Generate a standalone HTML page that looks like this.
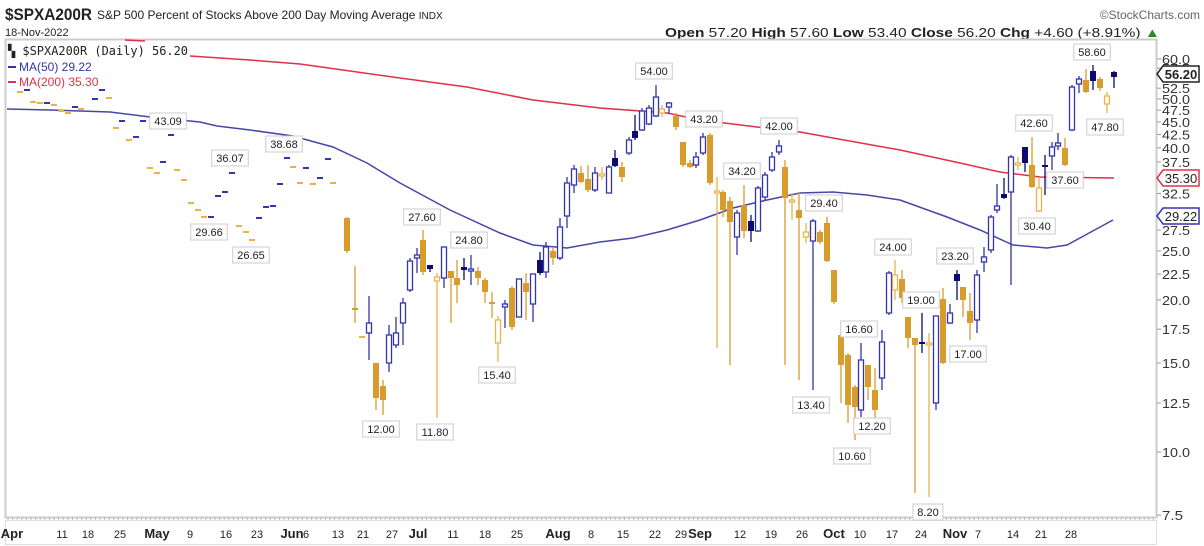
<!DOCTYPE html>
<html><head><meta charset="utf-8"><style>
body{margin:0;background:#fff;width:1204px;height:546px;overflow:hidden;font-family:"Liberation Sans",sans-serif}
svg{position:absolute;left:0;top:0}
</style></head><body>
<svg id="s" width="1204" height="546" xmlns="http://www.w3.org/2000/svg" font-family="Liberation Sans, sans-serif">
<text x="5" y="20" font-size="17" font-weight="bold" fill="#222" textLength="87" lengthAdjust="spacingAndGlyphs">$SPXA200R</text>
<text x="97" y="19" font-size="12" fill="#222">S&amp;P 500 Percent of Stocks Above 200 Day Moving Average <tspan font-size="10">INDX</tspan></text>
<text x="5" y="36" font-size="11" fill="#222">18-Nov-2022</text>
<text x="1200" y="19" font-size="12" fill="#666" text-anchor="end">©StockCharts.com</text>
<text x="665" y="37" font-size="13" fill="#222" textLength="495" lengthAdjust="spacingAndGlyphs"><tspan font-weight="bold">Open</tspan> 57.20 <tspan font-weight="bold">High</tspan> 57.60 <tspan font-weight="bold">Low</tspan> 53.40 <tspan font-weight="bold">Close</tspan> 56.20 <tspan font-weight="bold">Chg</tspan> +4.60 (+8.91%) <tspan fill="#2a8a2a">▲</tspan></text>
<rect x="5.5" y="39.5" width="1151" height="478" fill="none" stroke="#ccc" stroke-width="2"/>
<rect x="5.5" y="520.5" width="1151" height="24" fill="none" stroke="#ddd"/>
<g id="g"></g>
<text x="8" y="55" font-size="12" font-family="DejaVu Sans Mono, Liberation Mono, monospace" fill="#222" textLength="180" lengthAdjust="spacingAndGlyphs">▚ $SPXA200R (Daily) 56.20</text>
<rect x="8" y="66" width="8" height="2" fill="#3434a8"/><text x="19" y="71" font-size="12" fill="#3434a8">MA(50) 29.22</text>
<rect x="8" y="81" width="8" height="2" fill="#e0304a"/><text x="19" y="86" font-size="12" fill="#e0304a">MA(200) 35.30</text>
</svg>
<script>
const g=document.getElementById('g');let h='';
const Y=v=>452-219.4*Math.log(v/10);
[60,57.5,52.5,50,47.5,45,42.5,40,37.5,32.5,27.5,25,22.5,20,17.5,15,12.5,10,7.5].forEach(v=>{const y=Y(v);h+=`<line x1="1157" x2="1161" y1="${y}" y2="${y}" stroke="#999"/><text x="1162" y="${y+5}" font-size="13" fill="#333" textLength="${v>=10?28:21}" lengthAdjust="spacingAndGlyphs">${v.toFixed(1)}</text>`;});
const xl=[["Apr",12,1],["11",62],["18",88],["25",120],["May",157,1],["9",190],["16",226],["23",257],["Jun",292,1],["6",306],["13",338],["21",363],["27",392],["Jul",418,1],["11",453],["18",485],["25",517],["Aug",558,1],["8",591],["15",623],["22",655],["29",681],["Sep",700,1],["12",740],["19",771],["26",802],["Oct",834,1],["10",860],["17",892],["24",921],["Nov",955,1],["7",978],["14",1013],["21",1041],["28",1071]];
xl.forEach(a=>{h+=`<text x="${a[1]}" y="538" font-size="${a[2]?13:11}" ${a[2]?'font-weight="bold"':''} fill="#222" text-anchor="middle">${a[0]}</text>`;});
for(let x=8;x<1156;x+=4.6)h+=`<line x1="${x}" x2="${x}" y1="517" y2="520" stroke="#bbb"/>`;
const m200=[[125,40],[145,41]],r=[[190,56],[250,60],[300,64],[400,78],[467,87],[533,100],[600,108],[667,113],[700,120],[757,127],[800,132],[833,138],[900,150],[960,163],[1000,172],[1040,177],[1114,178]];
h+=`<polyline points="${m200.join(' ')}" fill="none" stroke="#e0304a" stroke-width="1.5"/>`;
h+=`<polyline points="${r.join(' ')}" fill="none" stroke="#e0304a" stroke-width="1.5"/>`;
const b=[[7,109],[50,110],[110,112],[150,117],[200,122],[217,126],[250,130],[293,136],[300,138],[333,147],[367,163],[400,183],[450,210],[500,233],[533,245],[567,248],[600,242],[633,238],[667,230],[700,220],[733,208],[767,200],[800,193],[833,192],[867,195],[900,200],[947,217],[980,230],[1013,245],[1047,248],[1067,245],[1113,220]];
h+=`<polyline points="${b.join(' ')}" fill="none" stroke="#4646a8" stroke-width="1.5"/>`;
const C={b:'#3434b0',n:'#0c0c70',o:'#d89c2c',h:'#e8b44a'};
const d=[[20,92,'o'],[27,90,'b'],[33,102,'o'],[40,103,'o'],[47,103,'b'],[54,105,'o'],[61,111,'o'],[68,113,'o'],[75,107,'b'],[81,109,'o'],[95,99,'b'],[102,90,'b'],[109,98,'o'],[116,128,'o'],[122,121,'b'],[129,140,'o'],[136,137,'b'],[143,121,'b'],[150,168,'o'],[157,173,'o'],[163,162,'b'],[171,135,'b'],[177,170,'o'],[184,180,'o'],[191,203,'o'],[198,210,'o'],[204,217,'o'],[211,217,'b'],[218,196,'b'],[225,192,'b'],[232,173,'b'],[239,226,'o'],[246,232,'o'],[252,240,'o'],[259,218,'b'],[266,207,'b'],[273,206,'b'],[280,184,'b'],[287,158,'b'],[293,167,'o'],[300,183,'o'],[306,168,'b'],[313,184,'o'],[320,178,'b'],[328,159,'b'],[333,183,'o'],[362,337,'o']];
d.forEach(a=>{h+=`<rect x="${a[0]-3}" y="${a[1]-1}" width="6" height="2" fill="${a[2]=='o'?C.h:C.b}"/>`;});
const c=[[347,218,251,217,253,'o'],[355,308,310,266,323,'o'],[369,323,333,296,360,'b'],[376,363,398,363,410,'o'],[383,386,400,380,415,'o'],[389,335,363,325,372,'b'],[396,333,345,317,348,'b'],[403,303,323,298,345,'b'],[410,261,290,258,292,'b'],[417,255,258,248,273,'b'],[423,240,272,230,275,'o'],[430,265,269,265,272,'n'],[437,277,281,273,418,'h'],[444,247,278,247,288,'b'],[451,271,278,271,323,'o'],[457,278,285,260,303,'o'],[464,267,270,258,280,'n'],[471,269,271,255,285,'b'],[478,271,278,267,285,'o'],[485,280,292,278,303,'o'],[492,302,304,292,318,'o'],[498,320,343,316,362,'h'],[505,304,307,300,328,'b'],[512,288,327,286,330,'o'],[519,279,317,279,317,'b'],[526,283,292,273,320,'o'],[533,274,304,274,322,'b'],[540,260,273,252,275,'n'],[546,247,272,242,278,'b'],[553,251,258,248,265,'o'],[560,227,258,218,260,'b'],[567,183,216,177,228,'b'],[574,169,185,165,193,'b'],[581,173,182,166,183,'o'],[588,179,190,165,192,'o'],[595,173,190,167,192,'b'],[602,174,176,167,180,'h'],[609,167,193,165,193,'b'],[615,158,166,150,167,'n'],[622,167,177,162,182,'o'],[629,140,153,137,155,'b'],[635,131,138,115,140,'n'],[642,111,130,108,131,'b'],[649,108,124,105,125,'b'],[656,97,116,85,117,'b'],[662,109,113,105,117,'h'],[669,103,107,102,114,'b'],[676,116,127,113,130,'o'],[683,142,165,142,167,'o'],[690,163,167,160,168,'o'],[696,157,165,152,168,'b'],[703,137,153,133,155,'b'],[710,135,183,133,185,'o'],[717,191,193,177,348,'h'],[723,192,210,190,217,'o'],[730,201,222,197,365,'o'],[737,213,237,210,255,'b'],[744,205,231,185,238,'o'],[751,221,231,215,242,'n'],[758,188,231,186,232,'b'],[765,175,197,172,200,'b'],[772,157,170,152,172,'b'],[779,146,152,140,155,'b'],[785,167,198,160,365,'o'],[792,200,202,193,220,'h'],[799,210,218,193,380,'o'],[806,232,237,223,243,'h'],[813,221,241,219,390,'b'],[820,232,242,230,244,'o'],[827,223,261,217,262,'o'],[834,270,302,270,304,'o'],[841,335,365,333,403,'o'],[848,355,405,353,423,'o'],[855,387,407,385,440,'o'],[861,360,410,343,417,'b'],[868,365,387,365,400,'o'],[875,390,410,368,418,'o'],[882,342,378,330,390,'b'],[889,273,313,271,315,'b'],[895,275,290,260,300,'h'],[902,279,298,270,303,'o'],[908,317,338,317,348,'o'],[915,338,345,338,493,'o'],[922,342,344,313,353,'n'],[929,343,345,333,497,'h'],[936,316,403,316,410,'b'],[943,299,363,288,364,'o'],[950,313,323,304,324,'b'],[957,274,281,270,300,'n'],[963,287,300,287,317,'o'],[970,311,323,293,340,'o'],[977,275,320,270,333,'b'],[984,257,262,247,272,'b'],[991,217,250,215,253,'b'],[997,206,210,184,213,'b'],[1004,194,198,178,199,'n'],[1011,157,192,155,285,'b'],[1018,163,165,157,170,'h'],[1025,147,163,147,172,'n'],[1032,165,187,137,188,'o'],[1039,188,211,177,212,'h'],[1045,165,167,155,195,'n'],[1052,147,156,142,170,'b'],[1058,143,146,133,150,'b'],[1065,148,165,138,166,'o'],[1072,87,130,85,131,'b'],[1079,79,84,76,93,'b'],[1086,80,92,69,93,'o'],[1093,71,81,65,90,'n'],[1100,79,88,77,91,'o'],[1107,96,104,92,113,'h'],[1114,72,77,71,88,'n']];
c.forEach(a=>{const[x,t,bt,wt,wb,k]=a;const col=C[k];const hol=(k=='b'||k=='h');
h+=`<line x1="${x}" x2="${x}" y1="${wt}" y2="${wb}" stroke="${col}" stroke-width="1.3"/>`;
const hh=Math.max(bt-t,2);
if(hol)h+=`<rect x="${x-2.5}" y="${t}" width="5" height="${hh}" fill="#fff" stroke="${col}" stroke-width="1.3"/>`;
else h+=`<rect x="${x-3}" y="${t}" width="6" height="${hh}" fill="${col}"/>`;});
const L=[["43.09",168,121],["36.07",230,158],["38.68",284,144],["29.66",209,232],["26.65",251,255],["27.60",422,217],["24.80",469,240],["12.00",381,429],["11.80",435,432],["15.40",497,375],["54.00",654,71],["43.20",704,119],["34.20",742,171],["42.00",779,126],["29.40",824,203],["13.40",811,405],["16.60",859,329],["12.20",872,426],["10.60",852,456],["24.00",893,247],["19.00",921,300],["23.20",955,256],["17.00",968,354],["8.20",928,512],["42.60",1034,123],["37.60",1065,180],["30.40",1037,226],["58.60",1092,52],["47.80",1105,127]];
L.forEach(a=>{const w=a[0].length*6.5+4;h+=`<rect x="${a[1]-w/2}" y="${a[2]-8}" width="${w}" height="16" fill="#fff" stroke="#ccc"/><text x="${a[1]}" y="${a[2]+4}" font-size="11" fill="#222" text-anchor="middle">${a[0]}</text>`;});
function tag(y,t,col,bold){h+=`<path d="M1157 ${y} L1163 ${y-8} H1199 V${y+8} H1163 Z" fill="#fff" stroke="${col}" stroke-width="1.5"/><text x="1181" y="${y+5}" font-size="13" ${bold?'font-weight="bold"':''} fill="#222" text-anchor="middle">${t}</text>`;}
tag(74,"56.20","#222",1);tag(178,"35.30","#e0304a",0);tag(216,"29.22","#3434a8",0);
g.innerHTML=h;
</script>
</body></html>
